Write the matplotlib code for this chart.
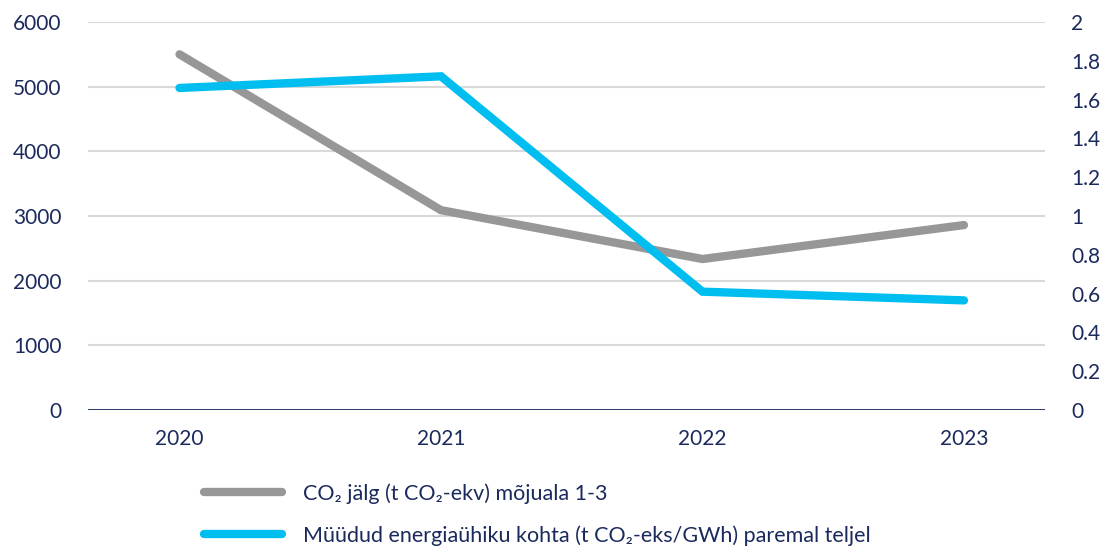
import matplotlib
matplotlib.use("Agg")
import matplotlib.pyplot as plt
import numpy as np

years = ["2020", "2021", "2022", "2023"]
co2_footprint = [5500, 3090, 2335, 2860]
co2_per_gwh = [1.66, 1.72, 0.61, 0.565]
labels = [
    "CO\u2082 jälg (t CO\u2082-ekv) mõjuala 1-3",
    "Müüdud energiaühiku kohta (t CO\u2082-eks/GWh) paremal teljel",
]
left_ticks = [0, 1000, 2000, 3000, 4000, 5000, 6000]
right_ticks = [0, 0.2, 0.4, 0.6, 0.8, 1, 1.2, 1.4, 1.6, 1.8, 2]
right_labels = ["0", "0.2", "0.4", "0.6", "0.8", "1", "1.2", "1.4", "1.6", "1.8", "2"]

navy = "#1b2a5c"
gray = "#979797"
blue = "#00bff0"

plt.rcParams["font.family"] = ["Lato", "DejaVu Sans"]

fig = plt.figure(figsize=(11.09, 5.47), dpi=100)
ax = fig.add_axes([88 / 1109, 1 - 410 / 547, (1045 - 88) / 1109, 388 / 547])
ax2 = ax.twinx()

x = np.arange(len(years))
l1, = ax.plot(x, co2_footprint, color=gray, lw=6, solid_capstyle="round", solid_joinstyle="miter", zorder=3)
l2, = ax2.plot(x, co2_per_gwh, color=blue, lw=6, solid_capstyle="round", solid_joinstyle="miter", zorder=3)

ax.set_xlim(-0.35, 3.31)
ax.set_ylim(0, 6000)
ax2.set_ylim(0, 2)
ax.set_yticks(left_ticks)
ax.set_yticklabels([str(t) for t in left_ticks])
ax2.set_yticks(right_ticks)
ax2.set_yticklabels(right_labels)
ax.set_xticks(x)
ax.set_xticklabels(years)

ax.grid(axis="y", color="#d9d9d9", lw=1.5)
ax.set_axisbelow(True)
for a in (ax, ax2):
    for s in ("top", "left", "right", "bottom"):
        a.spines[s].set_visible(False)
ax.axhline(0, color=navy, lw=2, zorder=4)

ax.tick_params(axis="both", length=0, labelsize=15, labelcolor=navy)
ax.tick_params(axis="y", pad=19)
ax.tick_params(axis="x", pad=14)
ax2.tick_params(axis="y", length=0, labelsize=15, labelcolor=navy, pad=19)

fig.legend([l1, l2], labels, loc="upper left", bbox_to_anchor=(185 / 1109, 1 - 464 / 547),
           frameon=False, fontsize=15.5, labelcolor=navy, handlelength=3.6,
           handletextpad=1.0, labelspacing=0.98)

fig.savefig("out.png", dpi=100)
